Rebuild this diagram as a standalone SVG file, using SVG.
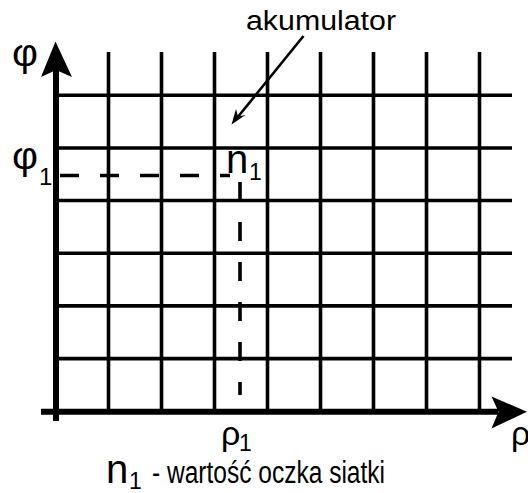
<svg xmlns="http://www.w3.org/2000/svg" width="528" height="493" viewBox="0 0 528 493">
<style>
.grid{stroke:#000;stroke-width:3.6;fill:none}
.axis{stroke:#000;stroke-width:6;fill:none}
.dash{stroke:#000;stroke-width:3.6;fill:none;stroke-dasharray:19 21}
.t{font-family:"Liberation Sans",Arial,sans-serif;fill:#000}
</style>
<rect width="528" height="493" fill="#fff"/>
<g id="grid">
<path class="grid" d="M108.5 52V411M161.5 52V411M214.5 52V411M267.5 52V411M320.5 52V411M373.5 52V411M426.5 52V411M479.5 52V411"/>
<path class="grid" d="M56 95.3H512M56 148H512M56 200.5H512M56 253.2H512M56 305.9H512M56 358.6H512"/>
</g>
<g id="connectors">
<path class="axis" d="M56 421V70"/>
<path class="axis" d="M41 411.7H498"/>
<path d="M55.5 41.5L72 77L56 70L41 77Z" fill="#000"/>
<path d="M527 411.7L491.5 396.5L498.5 411.7L491.5 428.5Z" fill="#000"/>
<path class="dash" d="M60 175.5H230"/>
<path class="dash" d="M240 182V395"/>
<path d="M303.5 36L237 118" stroke="#000" stroke-width="2.6" fill="none"/>
<path d="M231.5 124.5L236 109L238 116.5L245.5 115Z" fill="#000"/>
</g>
<g id="labels">
<text class="t" x="246" y="30" font-size="27" textLength="150" lengthAdjust="spacingAndGlyphs">akumulator</text>
<text class="t" x="12" y="66" font-size="38" textLength="26" lengthAdjust="spacingAndGlyphs">φ</text>
<text class="t" x="12" y="169" font-size="38" textLength="26" lengthAdjust="spacingAndGlyphs">φ</text>
<text class="t" x="39" y="185" font-size="24">1</text>
<text class="t" x="226" y="173" font-size="40">n</text>
<text class="t" x="249" y="180" font-size="23">1</text>
<text class="t" x="221" y="445" font-size="34">ρ</text>
<text class="t" x="239" y="451" font-size="23">1</text>
<text class="t" x="511" y="445" font-size="34">ρ</text>
<text class="t" x="106" y="483" font-size="40">n</text>
<text class="t" x="129" y="489" font-size="23">1</text>
<text class="t" x="152" y="483" font-size="31" textLength="233" lengthAdjust="spacingAndGlyphs">- wartość oczka siatki</text>
</g>
</svg>
